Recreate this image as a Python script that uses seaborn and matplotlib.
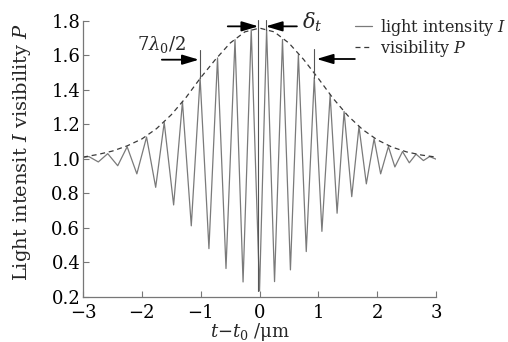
import pandas as pd
import matplotlib
matplotlib.use("Agg")
import matplotlib.pyplot as plt
import seaborn as sns

# fringe extrema (t - t0 in um, intensity)
fringe_x = [-3.0, -2.9, -2.74, -2.58, -2.41, -2.25, -2.085, -1.92, -1.765, -1.62,
            -1.46, -1.31, -1.16, -1.01, -0.86, -0.714, -0.57, -0.417, -0.28, -0.141,
            0.0, 0.12, 0.255, 0.39, 0.525, 0.66, 0.794, 0.93, 1.06, 1.2,
            1.318, 1.437, 1.567, 1.69, 1.815, 1.947, 2.058, 2.19, 2.30, 2.43,
            2.545, 2.66, 2.785, 2.89, 3.0]
fringe_y = [1.008, 1.013, 0.982, 1.03, 0.96, 1.07, 0.913, 1.126, 0.835, 1.21,
            0.733, 1.33, 0.612, 1.468, 0.48, 1.584, 0.365, 1.69, 0.287, 1.748,
            0.235, 1.748, 0.289, 1.69, 0.357, 1.603, 0.463, 1.47, 0.58, 1.371,
            0.685, 1.274, 0.781, 1.187, 0.855, 1.116, 0.913, 1.071, 0.953, 1.042,
            0.977, 1.027, 0.99, 1.013, 0.998]

# visibility envelope
env_x = [-3.0, -2.75, -2.5, -2.25, -2.0, -1.75, -1.5, -1.25, -1.0, -0.75, -0.5, -0.25, 0.0,
         0.25, 0.5, 0.75, 1.0, 1.25, 1.5, 1.75, 2.0, 2.25, 2.5, 2.75, 3.0]
env_y = [1.01, 1.025, 1.045, 1.075, 1.115, 1.175, 1.255, 1.355, 1.47, 1.575, 1.67, 1.735, 1.757,
         1.735, 1.67, 1.575, 1.465, 1.35, 1.25, 1.17, 1.11, 1.068, 1.04, 1.022, 1.01]

x_ticks = [-3, -2, -1, 0, 1, 2, 3]
y_ticks = [0.2, 0.4, 0.6, 0.8, 1.0, 1.2, 1.4, 1.6, 1.8]

fringe = pd.DataFrame({"t": fringe_x, "v": fringe_y})
env = pd.DataFrame({"t": env_x, "v": env_y})

sns.set_theme(style="white")
plt.rcParams["font.family"] = ["DejaVu Serif"]
plt.rcParams["mathtext.fontset"] = "dejavuserif"
plt.rcParams["font.size"] = 13

fig = plt.figure(figsize=(5.08, 3.42), dpi=100)
ax = fig.add_axes([0.1634, 0.1316, 0.695, 0.808])

sns.lineplot(data=fringe, x="t", y="v", ax=ax, color="#7a7a7a", lw=0.9,
             label="light intensity $I$")
sns.lineplot(data=env, x="t", y="v", ax=ax, color="#3a3a3a", lw=0.9,
             dashes=False, label="visibility $P$")
ax.lines[1].set_dashes([4, 3])

ax.set_xlim(-3, 3)
ax.set_ylim(0.2, 1.8)
ax.set_xticks(x_ticks)
ax.set_xticklabels(["\u22123", "\u22122", "\u22121", "0", "1", "2", "3"])
ax.set_yticks(y_ticks)
ax.set_yticklabels([f"{v:.1f}" for v in y_ticks])
ax.tick_params(axis="both", direction="in", length=4, width=0.8, color="#777777",
               labelsize=13, labelcolor="black")
ax.tick_params(axis="x", pad=5, bottom=True)
ax.tick_params(axis="y", pad=2, left=True)
for s in ["top", "right"]:
    ax.spines[s].set_visible(False)
for s in ["left", "bottom"]:
    ax.spines[s].set_color("#777777")
    ax.spines[s].set_linewidth(0.9)

ax.set_xlabel("$t$\u2212$t_0$ /\u03bcm", fontsize=13)
ax.xaxis.set_label_coords(0.473, -0.125)
ax.xaxis.label.set_va("center")
ax.set_ylabel("Light intensit $I$ visibility $P$", fontsize=14)
ax.yaxis.set_label_coords(-0.142, 0.527)

# annotations
arrow = dict(arrowstyle="-|>,head_length=1.0,head_width=0.3", color="black",
             lw=1.3, mutation_scale=10, shrinkA=0, shrinkB=0)
ax.plot([-1.01, -1.01], [1.63, 1.468], color="#555555", lw=0.8)
ax.annotate("", xy=(-1.03, 1.574), xytext=(-1.66, 1.574), arrowprops=arrow)
ax.text(-1.67, 1.63, r"$7\lambda_0/2$", ha="center", va="baseline", fontsize=13)

ax.plot([-0.02, -0.02], [1.806, 0.235], color="#555555", lw=0.8, clip_on=False)
ax.plot([0.105, 0.105], [1.806, 1.748], color="#555555", lw=0.8, clip_on=False)
ax.annotate("", xy=(-0.02, 1.767), xytext=(-0.54, 1.767), arrowprops=arrow,
            annotation_clip=False)
ax.annotate("", xy=(0.105, 1.767), xytext=(0.635, 1.767), arrowprops=arrow,
            annotation_clip=False)
ax.text(0.72, 1.79, r"$\delta_t$", ha="left", va="center", fontsize=15)

ax.plot([0.927, 0.927], [1.638, 1.47], color="#555555", lw=0.8)
ax.annotate("", xy=(0.97, 1.578), xytext=(1.62, 1.578), arrowprops=arrow)

ax.legend(loc="upper left", bbox_to_anchor=(0.6825, 0.975),
          bbox_transform=fig.transFigure, frameon=False, borderpad=0,
          handlelength=1.1, handletextpad=0.5, labelspacing=0.0, fontsize=11.5)

fig.savefig("out.png", dpi=100)
